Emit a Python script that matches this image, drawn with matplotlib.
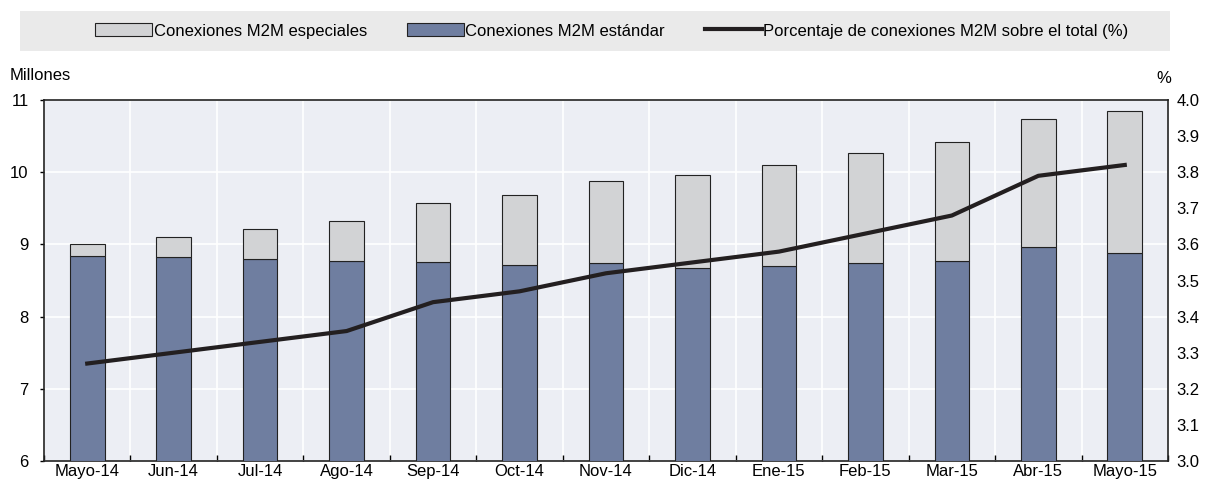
import numpy as np
import matplotlib.pyplot as plt
from matplotlib.patches import Patch
from matplotlib.lines import Line2D

meses = ['Mayo-14', 'Jun-14', 'Jul-14', 'Ago-14', 'Sep-14', 'Oct-14', 'Nov-14',
         'Dic-14', 'Ene-15', 'Feb-15', 'Mar-15', 'Abr-15', 'Mayo-15']
estandar = [8.84, 8.82, 8.80, 8.77, 8.75, 8.71, 8.74, 8.67, 8.70, 8.74, 8.77, 8.96, 8.88]
total = [9.01, 9.10, 9.21, 9.33, 9.57, 9.69, 9.88, 9.96, 10.10, 10.27, 10.42, 10.74, 10.85]
especiales = [t - s for t, s in zip(total, estandar)]
porcentaje = [3.27, 3.30, 3.33, 3.36, 3.44, 3.47, 3.52, 3.55, 3.58, 3.63, 3.68, 3.79, 3.82]

plt.rcParams['font.family'] = ['Liberation Sans', 'DejaVu Sans']
plt.rcParams['font.size'] = 12

c_std = '#6f7ea0'
c_esp = '#d2d3d5'
c_line = '#231f20'

fig = plt.figure(figsize=(12.1, 4.86), dpi=100)
ax = fig.add_axes([44 / 1210, 1 - 461 / 486, (1168 - 44) / 1210, (461 - 100) / 486])
ax.set_facecolor('#eceef4')

x = np.arange(len(meses))
ax.bar(x, np.array(estandar) - 6, bottom=6, width=0.4, color=c_std, edgecolor='#222222', linewidth=0.8, zorder=3)
ax.bar(x, especiales, bottom=estandar, width=0.4, color=c_esp, edgecolor='#222222', linewidth=0.8, zorder=3)

ax.set_xlim(-0.5, len(meses) - 0.5)
ax.set_ylim(6, 11)
ax.set_yticks(range(6, 12))
ax.set_xticks(x)
ax.set_xticklabels(meses)
ax.set_xticks(np.arange(-0.5, len(meses), 1), minor=True)
ax.tick_params(axis='x', which='major', length=0, pad=2)
ax.tick_params(axis='x', which='minor', length=4, direction='in', width=1)
ax.tick_params(axis='y', length=3, width=1, pad=8)
ax.grid(True, axis='y', color='white', linewidth=1.2, zorder=0)
ax.grid(True, axis='x', which='minor', color='white', linewidth=1.2, zorder=0)
for s in ax.spines.values():
    s.set_color('#222222')
    s.set_linewidth(1.2)

ax2 = ax.twinx()
ax2.plot(x, porcentaje, color=c_line, linewidth=3, zorder=5)
ax2.set_ylim(3.0, 4.0)
ax2.set_yticks(np.arange(3.0, 4.01, 0.1))
ax2.set_yticklabels(['%.1f' % v for v in np.arange(3.0, 4.01, 0.1)])
ax2.tick_params(axis='y', length=0, pad=6)
for s in ax2.spines.values():
    s.set_visible(False)

fig.text(10 / 1210, 1 - 75 / 486, 'Millones', ha='left', va='center', fontsize=12)
fig.text(1164 / 1210, 1 - 78 / 486, '%', ha='center', va='center', fontsize=12)

# legend band
band = plt.Rectangle((20 / 1210, 1 - 51 / 486), 1150 / 1210, 40 / 486,
                     transform=fig.transFigure, facecolor='#eaeaea', edgecolor='none')
fig.patches.append(band)
handles = [Patch(facecolor=c_esp, edgecolor='#222222', linewidth=0.8),
           Patch(facecolor=c_std, edgecolor='#222222', linewidth=0.8),
           Line2D([0], [0], color=c_line, linewidth=3)]
labels = ['Conexiones M2M especiales', 'Conexiones M2M estándar',
          'Porcentaje de conexiones M2M sobre el total (%)']
fig.legend(handles, labels, loc='center', bbox_to_anchor=(612 / 1210, 1 - 31 / 486),
           ncol=3, frameon=False, fontsize=12, handlelength=3.4, handleheight=0.8,
           handletextpad=0.1, columnspacing=2.4)

fig.savefig('out.png', dpi=100)
